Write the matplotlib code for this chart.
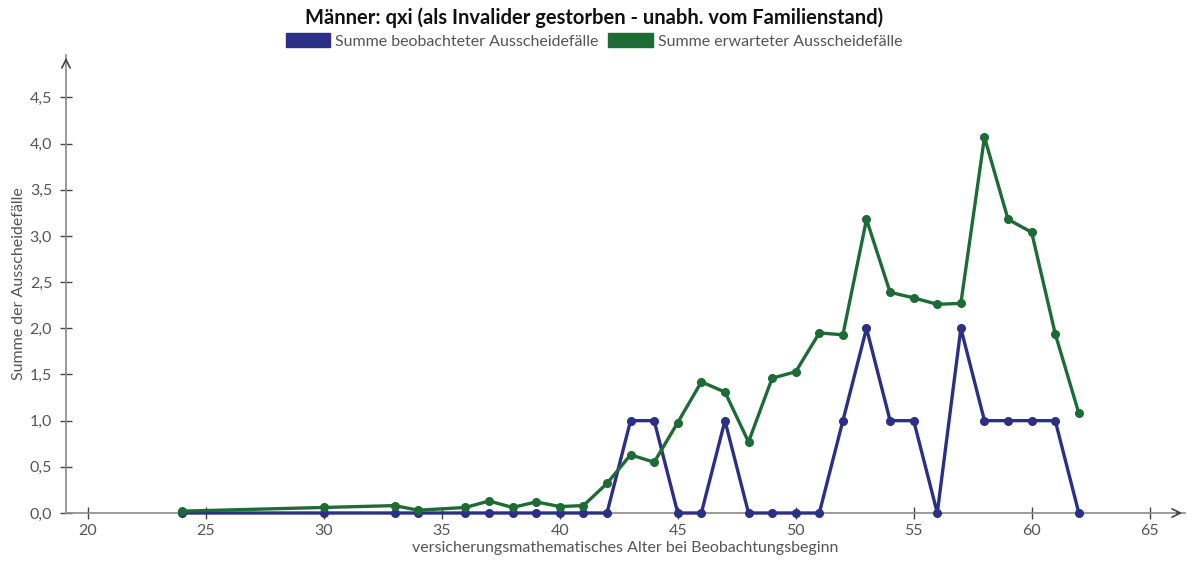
from matplotlib import pyplot as plt
import numpy as np

# Data
alter = [24, 30, 33, 34, 36, 37, 38, 39, 40, 41, 42, 43, 44, 45, 46, 47, 48, 49,
         50, 51, 52, 53, 54, 55, 56, 57, 58, 59, 60, 61, 62]
beobachtet = [0, 0, 0, 0, 0, 0, 0, 0, 0, 0, 0, 1, 1, 0, 0, 1, 0, 0,
              0, 0, 1, 2, 1, 1, 0, 2, 1, 1, 1, 1, 0]
erwartet = [0.02, 0.06, 0.08, 0.03, 0.06, 0.13, 0.06, 0.12, 0.07, 0.08, 0.32,
            0.63, 0.55, 0.98, 1.42, 1.31, 0.77, 1.46, 1.53, 1.95, 1.93, 3.18,
            2.39, 2.33, 2.26, 2.27, 4.07, 3.18, 3.04, 1.94, 1.08]
xticks = list(range(20, 70, 5))
yticks = [0.0, 0.5, 1.0, 1.5, 2.0, 2.5, 3.0, 3.5, 4.0, 4.5]

blue = "#2b2f86"
green = "#1d6b35"
grey = "#8a8a8a"
txt = "#555555"

plt.rcParams['font.family'] = ['Lato', 'DejaVu Sans']

fig = plt.figure(figsize=(11.88, 5.64), dpi=100)
ax = fig.add_axes([66/1188, 1-513/564, (1185-66)/1188, (513-55)/564])

ax.plot(alter, beobachtet, '-o', color=blue, linewidth=2.4, markersize=5.5,
        label="Summe beobachteter Ausscheidefälle", zorder=3, clip_on=False)
ax.plot(alter, erwartet, '-o', color=green, linewidth=2.4, markersize=5.5,
        label="Summe erwarteter Ausscheidefälle", zorder=3, clip_on=False)

ax.set_xlim(19.07, 66.5)
ax.set_ylim(0, 4.96)

for s in ['top', 'right']:
    ax.spines[s].set_visible(False)
for s in ['left', 'bottom']:
    ax.spines[s].set_color(grey)
    ax.spines[s].set_linewidth(1.2)

# arrow heads at axis ends
ax.annotate('', xy=(1.0, 0), xytext=(0.99, 0), xycoords='axes fraction',
            arrowprops=dict(arrowstyle='->', color='#444444', lw=1.2,
                            mutation_scale=15))
ax.annotate('', xy=(0, 1.0), xytext=(0, 0.98), xycoords='axes fraction',
            arrowprops=dict(arrowstyle='->', color='#444444', lw=1.2,
                            mutation_scale=15))

ax.set_xticks(xticks)
ax.set_xticklabels([str(t) for t in xticks])
ax.set_yticks(yticks)
ax.set_yticklabels([f"{t:.1f}".replace('.', ',') for t in yticks])
ax.tick_params(direction='inout', length=8, width=1, color='#444444',
               labelcolor=txt, labelsize=11.5)
ax.tick_params(axis='x', pad=4)
ax.tick_params(axis='y', pad=6)

ax.set_xlabel("versicherungsmathematisches Alter bei Beobachtungsbeginn",
              color=txt, fontsize=11.5)
ax.set_ylabel("Summe der Ausscheidefälle", color=txt, fontsize=11.5)
ax.xaxis.set_label_coords(0.5, -0.062)
ax.yaxis.set_label_coords(-0.036, 0.5)

fig.text(0.5, 1-18/564, "Männer: qxi (als Invalider gestorben - unabh. vom Familienstand)",
         ha='center', va='center', fontsize=14.5, fontweight='bold', color='#111111')

fig.legend(loc='center', bbox_to_anchor=(0.5, 1-41/564), ncol=2, frameon=False,
           handlelength=2.8, handleheight=0.9, columnspacing=0.6, handletextpad=0.3,
           fontsize=11.5, labelcolor=txt,
           handles=[plt.Rectangle((0, 0), 1, 1, color=blue),
                    plt.Rectangle((0, 0), 1, 1, color=green)],
           labels=["Summe beobachteter Ausscheidefälle", "Summe erwarteter Ausscheidefälle"])

plt.savefig("out.png", dpi=100)
